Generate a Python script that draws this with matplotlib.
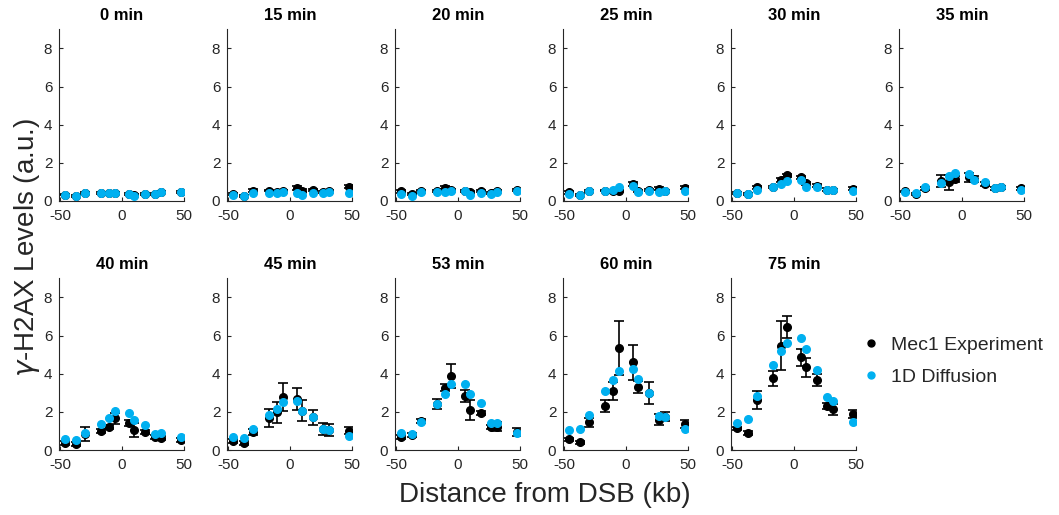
import numpy as np
import matplotlib.pyplot as plt
from matplotlib.lines import Line2D

plt.rcParams['font.family'] = ['Liberation Sans', 'DejaVu Sans']
plt.rcParams['axes.unicode_minus'] = False

# time points (min) and distance from the break (kb)
times = [0, 15, 20, 25, 30, 35, 40, 45, 53, 60, 75]
x_kb = [-46, -37, -30, -17, -10, -5.5, 5.5, 9.5, 18.5, 26.5, 32, 48]

# Mec1 experiment, mean per time point
exp_mean = [
    [0.34, 0.26, 0.41, 0.42, 0.41, 0.44, 0.38, 0.30, 0.38, 0.38, 0.45, 0.45],
    [0.36, 0.28, 0.55, 0.55, 0.48, 0.52, 0.69, 0.55, 0.60, 0.48, 0.52, 0.76],
    [0.50, 0.38, 0.55, 0.52, 0.69, 0.59, 0.52, 0.45, 0.52, 0.41, 0.52, 0.59],
    [0.47, 0.33, 0.52, 0.55, 0.52, 0.52, 0.90, 0.52, 0.60, 0.64, 0.55, 0.69],
    [0.44, 0.35, 0.71, 0.74, 1.12, 1.36, 1.24, 0.92, 0.81, 0.60, 0.60, 0.64],
    [0.50, 0.35, 0.67, 1.06, 0.97, 1.15, 1.24, 1.15, 0.88, 0.67, 0.71, 0.67],
    [0.35, 0.30, 0.84, 1.00, 1.22, 1.66, 1.43, 1.05, 0.93, 0.70, 0.61, 0.52],
    [0.49, 0.38, 0.96, 1.66, 1.97, 2.79, 2.69, 2.06, 1.71, 1.10, 1.05, 1.01],
    [0.70, 0.79, 1.50, 2.41, 3.27, 3.88, 2.83, 2.11, 1.94, 1.22, 1.22, 0.96],
    [0.56, 0.40, 1.45, 2.31, 3.09, 5.34, 4.59, 3.30, 3.00, 1.59, 1.75, 1.36],
    [1.13, 0.91, 2.62, 3.76, 5.47, 6.46, 4.86, 4.33, 3.67, 2.32, 2.13, 1.89],
]

# Mec1 experiment, error bar half-widths
exp_err = [
    [0.05, 0.05, 0.05, 0.05, 0.05, 0.05, 0.05, 0.05, 0.05, 0.05, 0.05, 0.05],
    [0.05, 0.05, 0.08, 0.05, 0.05, 0.05, 0.12, 0.08, 0.05, 0.05, 0.05, 0.08],
    [0.08, 0.05, 0.05, 0.05, 0.08, 0.05, 0.05, 0.05, 0.05, 0.05, 0.05, 0.05],
    [0.08, 0.05, 0.05, 0.05, 0.08, 0.05, 0.12, 0.05, 0.05, 0.08, 0.05, 0.08],
    [0.05, 0.05, 0.08, 0.05, 0.10, 0.08, 0.08, 0.08, 0.08, 0.08, 0.05, 0.08],
    [0.05, 0.05, 0.08, 0.32, 0.37, 0.15, 0.24, 0.15, 0.10, 0.08, 0.08, 0.08],
    [0.10, 0.10, 0.35, 0.10, 0.10, 0.28, 0.15, 0.37, 0.10, 0.10, 0.10, 0.10],
    [0.10, 0.10, 0.15, 0.48, 0.54, 0.74, 0.58, 0.54, 0.39, 0.29, 0.30, 0.19],
    [0.10, 0.10, 0.10, 0.25, 0.20, 0.63, 0.33, 0.52, 0.10, 0.10, 0.23, 0.20],
    [0.08, 0.08, 0.25, 0.30, 0.47, 1.42, 0.92, 0.32, 0.58, 0.28, 0.23, 0.20],
    [0.10, 0.10, 0.47, 0.40, 1.27, 0.58, 0.46, 0.50, 0.30, 0.15, 0.27, 0.22],
]

# 1D diffusion model
diff_vals = [
    [0.34, 0.24, 0.41, 0.41, 0.41, 0.43, 0.38, 0.28, 0.38, 0.38, 0.47, 0.47],
    [0.34, 0.26, 0.43, 0.43, 0.43, 0.47, 0.41, 0.31, 0.41, 0.41, 0.47, 0.43],
    [0.38, 0.24, 0.47, 0.47, 0.47, 0.55, 0.52, 0.34, 0.43, 0.38, 0.47, 0.50],
    [0.38, 0.29, 0.50, 0.55, 0.60, 0.76, 0.81, 0.47, 0.55, 0.47, 0.55, 0.52],
    [0.44, 0.35, 0.58, 0.73, 0.90, 1.03, 1.10, 0.74, 0.71, 0.57, 0.58, 0.53],
    [0.48, 0.41, 0.71, 0.94, 1.29, 1.45, 1.42, 1.10, 0.97, 0.67, 0.73, 0.58],
    [0.59, 0.52, 0.87, 1.38, 1.66, 2.04, 1.94, 1.55, 1.29, 0.82, 0.87, 0.66],
    [0.70, 0.65, 1.10, 1.83, 2.13, 2.53, 2.57, 2.06, 1.71, 1.10, 1.03, 0.75],
    [0.87, 0.86, 1.48, 2.43, 2.92, 3.44, 3.44, 2.92, 2.48, 1.40, 1.43, 0.91],
    [1.05, 1.08, 1.82, 3.09, 3.65, 4.12, 4.23, 3.74, 3.00, 1.80, 1.75, 1.08],
    [1.40, 1.64, 2.83, 4.45, 5.19, 5.61, 5.87, 5.28, 4.17, 2.78, 2.55, 1.47],
]

blue = '#00B0F0'
grey = '#262626'
W, H = 1059, 515

fig = plt.figure(figsize=(W / 100, H / 100), dpi=100)

for i, t in enumerate(times):
    row, col = divmod(i, 6)
    left = 59.3 + col * 168
    top = 29.3 if row == 0 else 278.3
    ax = fig.add_axes([left / W, 1 - (top + 171.7) / H, 125 / W, 171.7 / H])
    ax.errorbar(x_kb, exp_mean[i], yerr=exp_err[i], fmt='o', color='k',
                ms=5.5, elinewidth=1.2, capsize=3.5, capthick=1.2, zorder=2)
    ax.plot(x_kb, diff_vals[i], 'o', color=blue, ms=5.5, zorder=3)
    ax.set_xlim(-50.5, 50.5)
    ax.set_ylim(0, 9)
    ax.set_xticks([-50, 0, 50])
    ax.set_yticks([0, 2, 4, 6, 8])
    ax.tick_params(direction='in', length=3, labelsize=11, colors=grey)
    ax.tick_params(axis='y', pad=5)
    ax.tick_params(axis='x', pad=6)
    ax.spines['top'].set_visible(False)
    ax.spines['right'].set_visible(False)
    ax.spines['left'].set_color(grey)
    ax.spines['bottom'].set_color(grey)
    ax.set_title(f'{t} min', fontsize=12, fontweight='bold', pad=7)

fig.text(27 / W, 1 - 248 / H, r'$\gamma$-H2AX Levels (a.u.)', rotation=90,
         ha='center', va='center', fontsize=20, color=grey)
fig.text(545 / W, 1 - 495 / H, 'Distance from DSB (kb)',
         ha='center', va='center', fontsize=20, color=grey)

handles = [Line2D([], [], ls='none', marker='o', color='k', ms=5),
           Line2D([], [], ls='none', marker='o', color=blue, ms=5)]
fig.legend(handles, ['Mec1 Experiment', '1D Diffusion'], loc='center left',
           bbox_to_anchor=(844 / W, 1 - 361 / H), frameon=False, fontsize=14,
           handlelength=1, handletextpad=0.5, labelspacing=0.75,
           labelcolor=grey)

fig.savefig('out.png', dpi=100)
